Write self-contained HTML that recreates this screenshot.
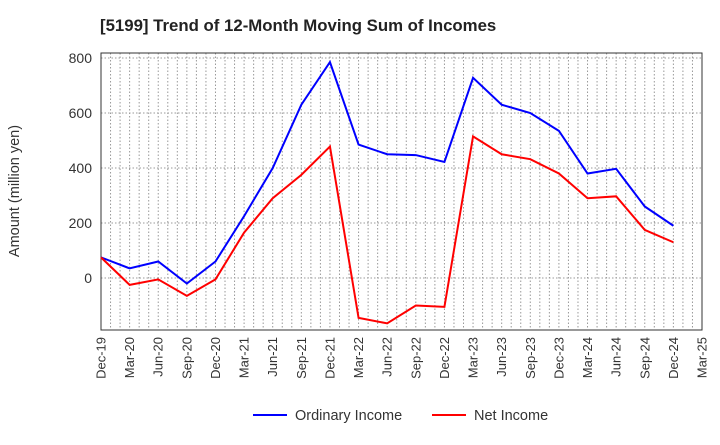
<!DOCTYPE html>
<html><head><meta charset="utf-8"><style>
body{margin:0;background:#fff;font-family:"Liberation Sans",Arial,sans-serif}
svg text{font-family:"Liberation Sans",Arial,sans-serif}
</style></head><body>
<svg id="c" width="720" height="440">
<text x="100" y="31" font-size="16.8" font-weight="bold" fill="#222">[5199]  Trend of 12-Month Moving Sum of Incomes</text>
<text transform="translate(19,191) rotate(-90)" text-anchor="middle" font-size="14.5" fill="#333">Amount (million yen)</text>
<g id="grid"></g><g id="axes"></g><g id="series"></g>
<g>
<line x1="253" y1="415" x2="287" y2="415" stroke="#0000ff" stroke-width="2"/>
<text x="295" y="420" font-size="14.5" fill="#333">Ordinary Income</text>
<line x1="432" y1="415" x2="466" y2="415" stroke="#ff0000" stroke-width="2"/>
<text x="474" y="420" font-size="14.5" fill="#333">Net Income</text>
</g>
</svg>
<script>
const categories=["Dec-19","Mar-20","Jun-20","Sep-20","Dec-20","Mar-21","Jun-21","Sep-21","Dec-21","Mar-22","Jun-22","Sep-22","Dec-22","Mar-23","Jun-23","Sep-23","Dec-23","Mar-24","Jun-24","Sep-24","Dec-24","Mar-25"];
const ordinaryIncome=[75,35,60,-20,60,225,400,630,785,485,450,447,422,728,630,600,535,380,397,260,190];
const netIncome=[75,-25,-5,-65,-5,165,290,375,478,-145,-165,-100,-105,515,450,432,380,290,297,175,130];
const yTicks=[0,200,400,600,800];
const L=101,R=702,T=53,B=330;
const NS="http://www.w3.org/2000/svg";
const xs=i=>L+i*(R-L)/(categories.length-1);
const ys=v=>278-v*55/200;
function mk(tag,attrs,parent){const e=document.createElementNS(NS,tag);for(const k in attrs)e.setAttribute(k,attrs[k]);parent.appendChild(e);return e;}
const grid=document.getElementById('grid'),axes=document.getElementById('axes'),ser=document.getElementById('series');
const months=(categories.length-1)*3;
for(let m=1;m<months;m++){const x=L+m*(R-L)/months;
const g=mk('line',{x1:x,x2:x,y1:T,y2:B,stroke:'#999','stroke-dasharray':'1.5,2','stroke-width':1},grid);

}
yTicks.forEach(v=>{const y=ys(v);
const g=mk('line',{x1:L,x2:R,y1:y,y2:y,stroke:'#999','stroke-dasharray':'1.5,2','stroke-width':1},grid);


const t=mk('text',{x:L-9,y:y+5,'text-anchor':'end','font-size':14,fill:'#333'},axes);t.textContent=v;

});
const fr=mk('rect',{x:L,y:T,width:R-L,height:B-T,fill:'none',stroke:'#333','stroke-width':1},axes);


categories.forEach((c,i)=>{const x=xs(i);
const t=mk('text',{transform:`translate(${x+4.5},${B+7}) rotate(-90)`,'text-anchor':'end','font-size':13,fill:'#333'},axes);t.textContent=c;

});
function line(d,col,name){const p=mk('polyline',{points:d.map((v,i)=>xs(i)+','+ys(v)).join(' '),fill:'none',stroke:col,'stroke-width':2},ser);

}
line(ordinaryIncome,'#0000ff','ordinary-income-line');
line(netIncome,'#ff0000','net-income-line');
</script>
</body></html>
